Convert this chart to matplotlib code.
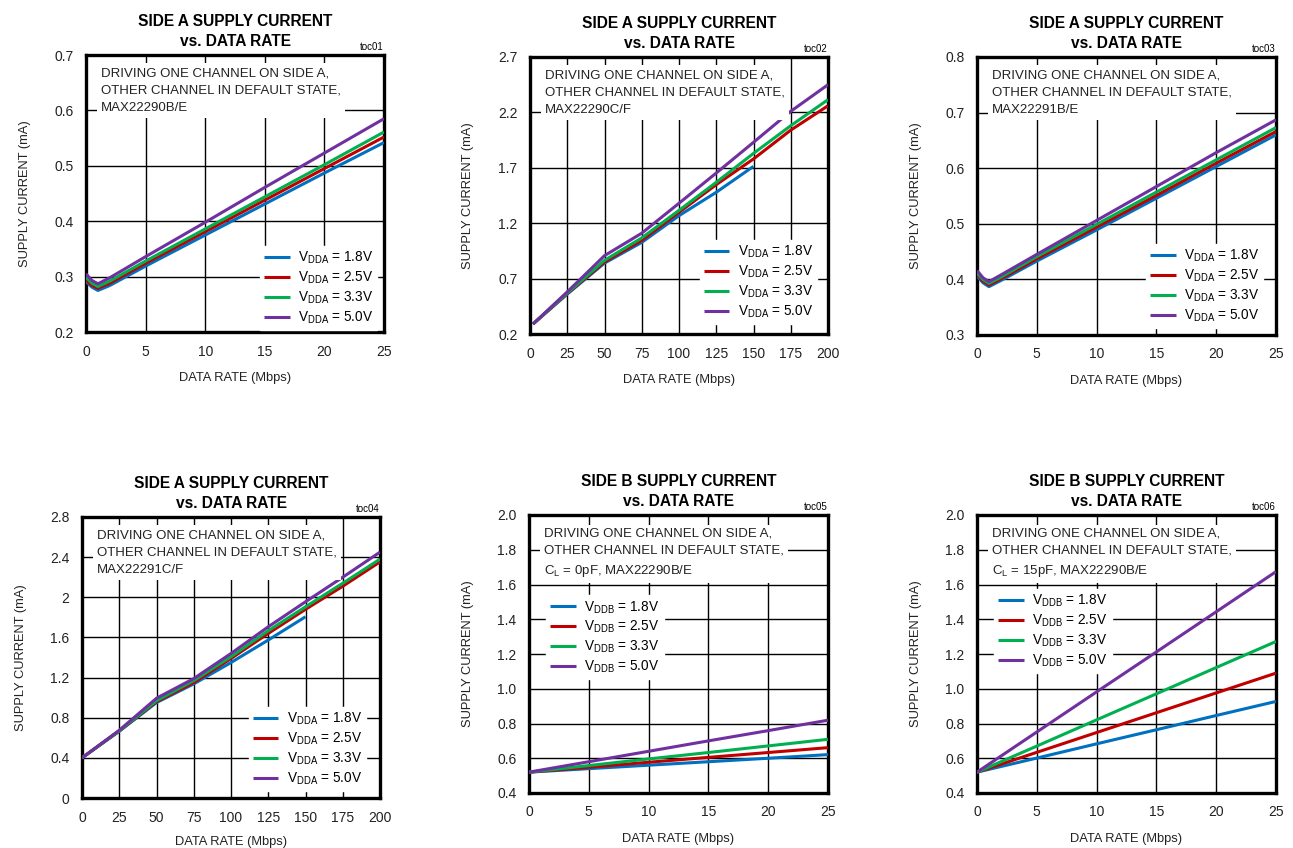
import matplotlib
matplotlib.use("Agg")
import matplotlib.pyplot as plt
from matplotlib import font_manager

# pick a narrow font if it exists
names = {f.name for f in font_manager.fontManager.ttflist}
FONT = 'Liberation Sans Narrow' if 'Liberation Sans Narrow' in names else 'Liberation Sans'
plt.rcParams['font.family'] = [FONT, 'DejaVu Sans']
plt.rcParams['mathtext.fontset'] = 'custom'
plt.rcParams['mathtext.rm'] = FONT
plt.rcParams['mathtext.it'] = FONT
plt.rcParams['mathtext.default'] = 'rm'

colors = ['#0070C0', '#C00000', '#00B050', '#7030A0']

# ---- data ----
# toc01
x1 = [0, 0.5, 1, 2, 5, 10, 15, 20, 25]
y1_18 = [0.291, 0.281, 0.275, 0.284, 0.319, 0.375, 0.431, 0.487, 0.542]
y1_25 = [0.294, 0.284, 0.279, 0.288, 0.324, 0.381, 0.438, 0.495, 0.552]
y1_33 = [0.299, 0.288, 0.282, 0.292, 0.328, 0.386, 0.444, 0.502, 0.561]
y1_50 = [0.305, 0.293, 0.287, 0.298, 0.336, 0.398, 0.461, 0.523, 0.585]

# toc02
x2 = [2, 25, 50, 75, 100, 125, 150, 175, 200]
x2_18 = [2, 25, 50, 75, 100, 125, 150]
y2_18 = [0.29, 0.56, 0.84, 1.027, 1.268, 1.479, 1.713]
y2_25 = [0.29, 0.565, 0.85, 1.045, 1.298, 1.548, 1.78, 2.04, 2.26]
y2_33 = [0.29, 0.57, 0.865, 1.067, 1.316, 1.569, 1.83, 2.08, 2.315]
y2_50 = [0.29, 0.58, 0.907, 1.11, 1.38, 1.653, 1.93, 2.21, 2.45]

# toc03
x3 = [0, 0.5, 1, 2, 5, 10, 15, 20, 25]
y3_18 = [0.406, 0.394, 0.387, 0.398, 0.433, 0.489, 0.546, 0.603, 0.660]
y3_25 = [0.409, 0.397, 0.390, 0.401, 0.437, 0.494, 0.551, 0.609, 0.666]
y3_33 = [0.412, 0.400, 0.393, 0.404, 0.441, 0.499, 0.557, 0.615, 0.673]
y3_50 = [0.416, 0.403, 0.396, 0.408, 0.445, 0.506, 0.567, 0.628, 0.687]

# toc04
x4 = [0, 25, 50, 75, 100, 125, 150, 175, 200]
x4_18 = [0, 25, 50, 75, 100, 125, 150]
y4_18 = [0.40, 0.665, 0.951, 1.137, 1.35, 1.574, 1.806]
y4_25 = [0.40, 0.668, 0.96, 1.15, 1.39, 1.64, 1.88, 2.11, 2.353]
y4_33 = [0.40, 0.670, 0.97, 1.17, 1.408, 1.667, 1.905, 2.14, 2.38]
y4_50 = [0.40, 0.675, 0.994, 1.19, 1.44, 1.706, 1.955, 2.20, 2.45]

# toc05
x5 = [0, 5, 10, 15, 20, 25]
y5_18 = [0.52, 0.54, 0.56, 0.58, 0.60, 0.621]
y5_25 = [0.52, 0.548, 0.577, 0.605, 0.633, 0.661]
y5_33 = [0.52, 0.558, 0.596, 0.633, 0.671, 0.709]
y5_50 = [0.52, 0.58, 0.64, 0.70, 0.759, 0.819]

# toc06
x6 = [0, 5, 10, 15, 20, 25]
y6_18 = [0.52, 0.601, 0.683, 0.764, 0.846, 0.927]
y6_25 = [0.52, 0.634, 0.748, 0.862, 0.976, 1.090]
y6_33 = [0.52, 0.670, 0.821, 0.971, 1.122, 1.272]
y6_50 = [0.52, 0.751, 0.982, 1.212, 1.443, 1.674]

yt1 = [0.2, 0.3, 0.4, 0.5, 0.6, 0.7]
yl1 = ['0.2', '0.3', '0.4', '0.5', '0.6', '0.7']
yt2 = [0.2, 0.7, 1.2, 1.7, 2.2, 2.7]
yl2 = ['0.2', '0.7', '1.2', '1.7', '2.2', '2.7']
yt3 = [0.3, 0.4, 0.5, 0.6, 0.7, 0.8]
yl3 = ['0.3', '0.4', '0.5', '0.6', '0.7', '0.8']
yt4 = [0, 0.4, 0.8, 1.2, 1.6, 2.0, 2.4, 2.8]
yl4 = ['0', '0.4', '0.8', '1.2', '1.6', '2', '2.4', '2.8']
yt5 = [0.4, 0.6, 0.8, 1.0, 1.2, 1.4, 1.6, 1.8, 2.0]
yl5 = ['0.4', '0.6', '0.8', '1.0', '1.2', '1.4', '1.6', '1.8', '2.0']
xt25 = [0, 5, 10, 15, 20, 25]
xt200 = [0, 25, 50, 75, 100, 125, 150, 175, 200]

supplies = ['1.8V', '2.5V', '3.3V', '5.0V']

note_a = 'DRIVING ONE CHANNEL ON SIDE A,\nOTHER CHANNEL IN DEFAULT STATE,\n'

W, H = 1293, 848
fig = plt.figure(figsize=(W / 100, H / 100), dpi=100)


def panel(box, title, toc, xs, ys, xt, yt, yl, note, sub, leg_loc, leg_anchor, xpad=10):
    l, r, t, b = box
    ax = fig.add_axes([l / W, 1 - b / H, (r - l) / W, (b - t) / H])
    for xx, yy, c, v in zip(xs, ys, colors, supplies):
        ax.plot(xx, yy, color=c, lw=2.2, label='V$_{' + sub + '}$ = ' + v,
                solid_capstyle='butt', zorder=3)
    ax.set_xlim(xt[0], xt[-1])
    ax.set_ylim(yt[0], yt[-1])
    ax.set_xticks(xt)
    ax.set_xticklabels([str(v) for v in xt])
    ax.set_yticks(yt)
    ax.set_yticklabels(yl)
    ax.tick_params(length=0, labelsize=10, colors='#222222')
    ax.tick_params(axis='x', pad=9)
    ax.tick_params(axis='y', pad=9)
    ax.grid(True, color='black', lw=1.0)
    ax.set_axisbelow(True)
    for s in ax.spines.values():
        s.set_linewidth(2.4)
    ax.set_xlabel('DATA RATE (Mbps)', fontsize=9.3, labelpad=xpad, color='#222222')
    ax.set_ylabel('SUPPLY CURRENT (mA)', fontsize=9.3, labelpad=17, color='#222222')
    ax.set_title(title, fontsize=11.2, fontweight='bold', pad=6.5, linespacing=1.4)
    ax.text(1.0, 1.01, toc, transform=ax.transAxes, ha='right', va='bottom', fontsize=7)
    ax.text(0.05, 0.955, note, transform=ax.transAxes, ha='left', va='top',
            fontsize=9.5, linespacing=1.58, color='#222222', zorder=4,
            bbox=dict(facecolor='white', edgecolor='none', pad=3))
    leg = ax.legend(loc=leg_loc, bbox_to_anchor=leg_anchor, fontsize=9.8,
                    handlelength=1.9, handletextpad=0.6, labelspacing=0.26,
                    frameon=True, fancybox=False, framealpha=1,
                    edgecolor='white', facecolor='white', borderpad=0.3,
                    borderaxespad=0)
    leg.set_zorder(5)
    return ax


panel((86, 384, 55, 332), 'SIDE A SUPPLY CURRENT\nvs. DATA RATE', 'toc01',
      [x1] * 4, [y1_18, y1_25, y1_33, y1_50], xt25, yt1, yl1,
      note_a + 'MAX22290B/E', 'DDA', 'lower right', (0.977, 0.007))
panel((530, 828, 57, 334), 'SIDE A SUPPLY CURRENT\nvs. DATA RATE', 'toc02',
      [x2_18, x2, x2, x2], [y2_18, y2_25, y2_33, y2_50], xt200, yt2, yl2,
      note_a + 'MAX22290C/F', 'DDA', 'lower right', (0.963, 0.036))
panel((977, 1276, 57, 335), 'SIDE A SUPPLY CURRENT\nvs. DATA RATE', 'toc03',
      [x3] * 4, [y3_18, y3_25, y3_33, y3_50], xt25, yt3, yl3,
      note_a + 'MAX22291B/E', 'DDA', 'lower right', (0.957, 0.025))
panel((82, 380, 517, 798), 'SIDE A SUPPLY CURRENT\nvs. DATA RATE', 'toc04',
      [x4_18, x4, x4, x4], [y4_18, y4_25, y4_33, y4_50], xt200, yt4, yl4,
      note_a + 'MAX22291C/F', 'DDA', 'lower right', (0.953, 0.025), xpad=8)
panel((529, 828, 515, 793), 'SIDE B SUPPLY CURRENT\nvs. DATA RATE', 'toc05',
      [x5] * 4, [y5_18, y5_25, y5_33, y5_50], xt25, yt5, yl5,
      note_a + 'C$_\\mathregular{L}$ = 0pF, MAX22290B/E', 'DDB', 'upper left', (0.057, 0.712))
panel((977, 1276, 515, 793), 'SIDE B SUPPLY CURRENT\nvs. DATA RATE', 'toc06',
      [x6] * 4, [y6_18, y6_25, y6_33, y6_50], xt25, yt5, yl5,
      note_a + 'C$_\\mathregular{L}$ = 15pF, MAX22290B/E', 'DDB', 'upper left', (0.057, 0.734))

plt.savefig('out.png', dpi=100)
